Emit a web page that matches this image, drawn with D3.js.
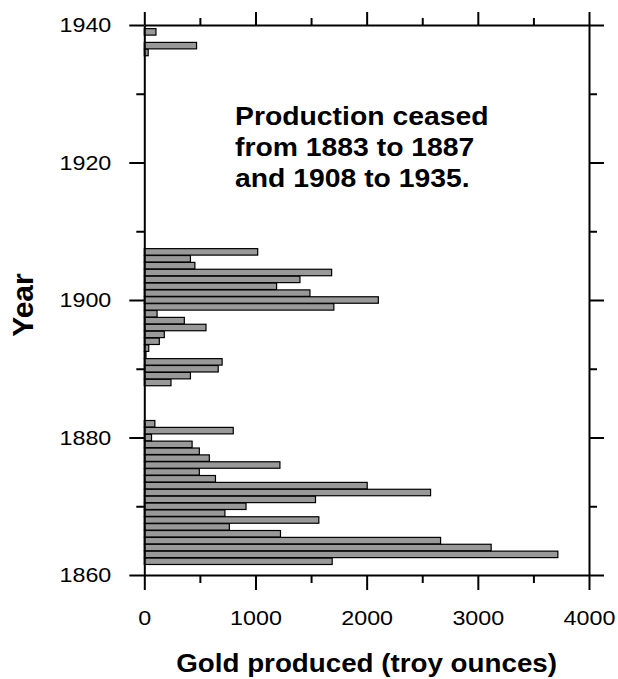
<!DOCTYPE html>
<html>
<head>
<meta charset="utf-8">
<script src="https://cdn.jsdelivr.net/npm/d3@7"></script>
<style>
  html, body { margin: 0; padding: 0; background: #fff; }
  svg { display: block; font-family: "Liberation Sans", Arial, Helvetica, sans-serif; }
  .stretch { transform-box: fill-box; transform: scaleX(1.11); }
  .stretch2 { transform-box: fill-box; transform: scaleX(1.09); }
</style>
</head>
<body>
<svg id="chart" width="618" height="679"></svg>
<script>
// ---- data ----
const years = [1862, 1863, 1864, 1865, 1866, 1867, 1868, 1869, 1870, 1871,
               1872, 1873, 1874, 1875, 1876, 1877, 1878, 1879, 1880, 1881, 1882,
               1888, 1889, 1890, 1891, 1892, 1893, 1894, 1895, 1896, 1897,
               1898, 1899, 1900, 1901, 1902, 1903, 1904, 1905, 1906, 1907,
               1936, 1937, 1939];
const ounces = [1690, 3720, 3120, 2665, 1225, 765, 1570, 725, 915, 1540,
                2575, 2005, 640, 495, 1220, 585, 495, 430, 65, 800, 95,
                240, 415, 665, 700, 15, 40, 135, 180, 555, 360,
                115, 1705, 2105, 1490, 1190, 1400, 1685, 455, 415, 1020,
                35, 470, 105];
const xMajorTicks = [0, 1000, 2000, 3000, 4000];
const xMinorTicks = [500, 1500, 2500, 3500];
const yMajorTicks = [1860, 1880, 1900, 1920, 1940];
const yMinorTicks = [1870, 1890, 1910, 1930];
const xTitle = "Gold produced (troy ounces)";
const yTitle = "Year";
const noteLines = ["Production ceased", "from 1883 to 1887", "and 1908 to 1935."];

(function () {
// ---- layout ----
const mLeft = 144.3, mRight = 589, mTop = 25, mBottom = 575;
const svg = d3.select("#chart");

const x = d3.scaleLinear().domain([0, 4000]).range([mLeft, mRight]);
const y = d3.scaleLinear().domain([1860, 1940]).range([mBottom, mTop]);
const step = Math.abs(y(1861) - y(1860));
const barH = step - 0.4;

// bars
svg.append("g").selectAll("rect")
  .data(years.map((yr, i) => ({ yr, v: ounces[i] })))
  .join("rect")
  .attr("x", x(0))
  .attr("y", d => y(d.yr) - barH / 2)
  .attr("width", d => x(d.v) - x(0))
  .attr("height", barH)
  .attr("fill", "#999999")
  .attr("stroke", "#000")
  .attr("stroke-width", 1.2);

function styleAxis(g) {
  g.selectAll("path.domain").attr("stroke", "#000").attr("stroke-width", 2);
  g.selectAll(".tick line").attr("stroke", "#000").attr("stroke-width", 2);
}

const majorLen = 15, minorLen = 8;

// left axis (labels)
const gL = svg.append("g").attr("transform", `translate(${mLeft},0)`)
  .call(d3.axisLeft(y).tickValues(yMajorTicks).tickFormat(d3.format("d"))
        .tickSize(majorLen).tickSizeOuter(0).tickPadding(18));
gL.append("g").call(d3.axisLeft(y).tickValues(yMinorTicks).tickFormat("").tickSize(minorLen).tickSizeOuter(0))
  .select("path.domain").remove();
styleAxis(gL);
gL.selectAll(".tick text").attr("font-size", 21).attr("fill", "#000")
  .style("font-family", "'Liberation Sans', Arial, sans-serif")
  .attr("class", "stretch").style("transform-origin", "100% 50%");

// right axis
const gR = svg.append("g").attr("transform", `translate(${mRight},0)`)
  .call(d3.axisRight(y).tickValues(yMajorTicks).tickFormat("").tickSize(majorLen).tickSizeOuter(0));
gR.append("g").call(d3.axisRight(y).tickValues(yMinorTicks).tickFormat("").tickSize(minorLen).tickSizeOuter(0))
  .select("path.domain").remove();
styleAxis(gR);

// bottom axis (labels)
const gB = svg.append("g").attr("transform", `translate(0,${mBottom})`)
  .call(d3.axisBottom(x).tickValues(xMajorTicks).tickFormat(d3.format("d"))
        .tickSize(majorLen).tickSizeOuter(0).tickPadding(20));
gB.append("g").call(d3.axisBottom(x).tickValues(xMinorTicks).tickFormat("").tickSize(minorLen).tickSizeOuter(0))
  .select("path.domain").remove();
styleAxis(gB);
gB.selectAll(".tick text").attr("font-size", 21).attr("fill", "#000")
  .style("font-family", "'Liberation Sans', Arial, sans-serif")
  .attr("class", "stretch").style("transform-origin", "50% 50%");

// top axis
const gT = svg.append("g").attr("transform", `translate(0,${mTop})`)
  .call(d3.axisTop(x).tickValues(xMajorTicks).tickFormat("").tickSize(13).tickSizeOuter(0));
gT.append("g").call(d3.axisTop(x).tickValues(xMinorTicks).tickFormat("").tickSize(7).tickSizeOuter(0))
  .select("path.domain").remove();
styleAxis(gT);

// axis titles
svg.append("text")
  .attr("x", (mLeft + mRight) / 2).attr("y", 672.5)
  .attr("text-anchor", "middle")
  .attr("font-size", 25).attr("font-weight", "bold")
  .attr("class", "stretch").style("transform-origin", "50% 50%")
  .text(xTitle);

svg.append("text")
  .attr("transform", `translate(32.5,${(mTop + mBottom) / 2 + 5}) rotate(-90)`)
  .attr("text-anchor", "middle")
  .attr("font-size", 30).attr("font-weight", "bold")
  .text(yTitle);

// annotation
const note = svg.append("g");
noteLines.forEach((t, i) => {
  note.append("text")
    .attr("x", 235).attr("y", 125 + i * 31)
    .attr("font-size", 26).attr("font-weight", "bold")
    .attr("class", "stretch2").style("transform-origin", "0% 50%")
    .text(t);
});
})();
</script>
</body>
</html>
